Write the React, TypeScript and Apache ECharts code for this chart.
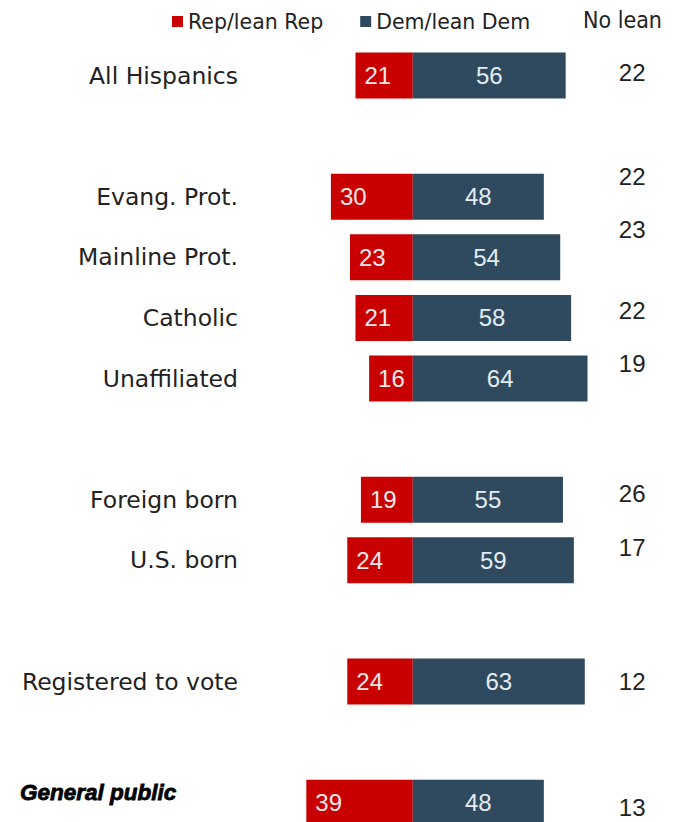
import React, { useEffect, useRef } from "react";
import * as echarts from "echarts";

const categories = [
  "All Hispanics",
  " ",
  "Evang. Prot.",
  "Mainline Prot.",
  "Catholic",
  "Unaffiliated",
  "  ",
  "Foreign born",
  "U.S. born",
  "   ",
  "Registered to vote",
  "    ",
  "General public",
];
const repValues = [21, null, 30, 23, 21, 16, null, 19, 24, null, 24, null, 39];
const demValues = [56, null, 48, 54, 58, 64, null, 55, 59, null, 63, null, 48];
const noLeanValues = [22, null, 22, 23, 22, 19, null, 26, 17, null, 12, null, 13];
const legendNames = ["Rep/lean Rep", "Dem/lean Dem"];
const noLeanTitle = "No lean";

// vertical label shifts of the "No lean" column (style only)
const noLeanShift = [-3, 0, -20, -28, -7, -15, 0, -6, -13, 0, 0, 0, 5];

const REP = "#c80000";
const DEM = "#2f4a5e";
const NARROW = "'DejaVu Sans Condensed', 'Liberation Sans Narrow', sans-serif";
const NUM_FONT = "'Liberation Sans', Arial, sans-serif";
const LABEL_FONT = "'DejaVu Sans', Verdana, sans-serif";

export default function App() {
  const ref = useRef<HTMLDivElement>(null);
  useEffect(() => {
    if (!ref.current) return;
    const chart = echarts.init(ref.current, null, { renderer: "svg" });
    const rich: Record<string, any> = {};
    noLeanShift.forEach((s, i) => {
      rich["r" + i] = {
        fontFamily: NUM_FONT,
        fontSize: 24,
        lineHeight: 18,
        color: "#222",
        padding: s < 0 ? [0, 0, -2 * s, 0] : [2 * s, 0, 0, 0],
      };
    });
    chart.setOption({
      animation: false,
      backgroundColor: "#ffffff",
      title: {
        text: noLeanTitle,
        left: 578,
        top: 3,
        textStyle: { fontFamily: NARROW, fontSize: 23, fontWeight: "normal", color: "#222" },
      },
      legend: {
        data: legendNames,
        left: 167,
        top: 6,
        icon: "rect",
        itemWidth: 11,
        itemHeight: 11,
        itemGap: 37,
        textStyle: { fontFamily: LABEL_FONT, fontSize: 20.5, color: "#222" },
      },
      grid: { left: 249, top: 45.2, width: 382.2, height: 787.8, containLabel: false },
      xAxis: {
        type: "value",
        min: -60,
        max: 80,
        show: false,
      },
      yAxis: [
        {
          type: "category",
          data: categories,
          inverse: true,
          axisLine: { show: false },
          axisTick: { show: false },
          splitLine: { show: false },
          axisLabel: {
            margin: 11,
            fontFamily: LABEL_FONT,
            fontSize: 23.5,
            color: "#222",
            formatter: (value: string, index: number) =>
              index === categories.length - 1 ? `{gp|${value}}` : value.trim(),
            rich: {
              gp: {
                fontFamily: "'Liberation Sans', Arial, sans-serif",
                fontWeight: 900,
                fontStyle: "italic",
                fontSize: 22.5,
                color: "#000",
                textBorderColor: "#000",
                textBorderWidth: 0.8,
                width: 218,
                align: "left",
                padding: [0, 0, 20, 0],
              },
            },
          },
        },
        {
          type: "category",
          data: categories,
          inverse: true,
          position: "right",
          axisLine: { show: false },
          axisTick: { show: false },
          splitLine: { show: false },
          axisLabel: {
            margin: 1,
            align: "center",
            formatter: (_v: string, index: number) =>
              noLeanValues[index] == null ? "" : `{r${index}|${noLeanValues[index]}}`,
            rich,
          },
        },
      ],
      series: [
        {
          name: legendNames[0],
          type: "bar",
          data: repValues.map((v) => (v == null ? "-" : -v)),
          barWidth: 46,
          barGap: "-100%",
          itemStyle: { color: REP },
          label: {
            show: true,
            position: "insideLeft",
            distance: 9,
            fontFamily: NUM_FONT,
            fontSize: 24,
            color: "#f4e8e8",
            formatter: (p: any) => String(Math.abs(p.value)),
          },
        },
        {
          name: legendNames[1],
          type: "bar",
          data: demValues.map((v) => (v == null ? "-" : v)),
          barWidth: 46,
          barGap: "-100%",
          itemStyle: { color: DEM },
          label: {
            show: true,
            position: "inside",
            fontFamily: NUM_FONT,
            fontSize: 24,
            color: "#e4ecf2",
          },
        },
      ],
    });
    return () => chart.dispose();
  }, []);
  return (
    <div
      ref={ref}
      style={{ position: "fixed", left: 0, top: 0, width: 677, height: 860, background: "#fff" }}
    />
  );
}
